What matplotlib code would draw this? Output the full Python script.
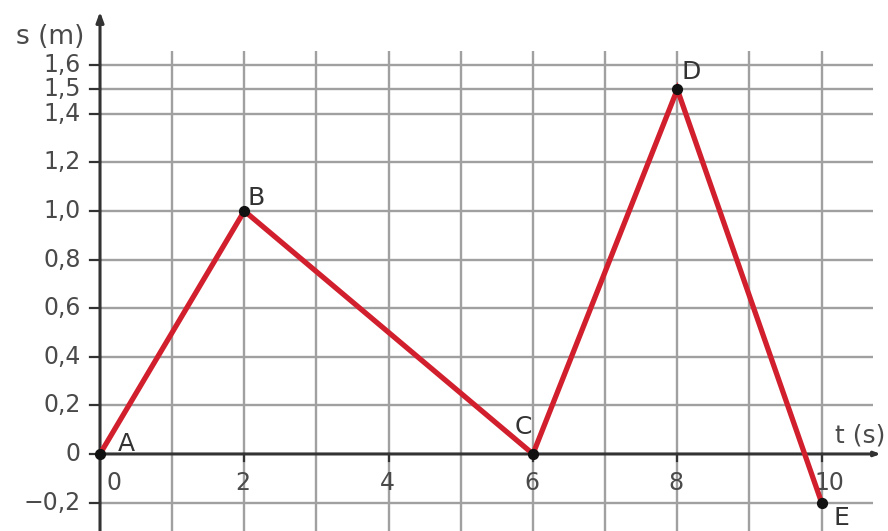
import matplotlib
matplotlib.use("Agg")
import matplotlib.pyplot as plt

plt.rcParams['font.family'] = ['DejaVu Sans']

# data
t_values = [0, 2, 6, 8, 10]
s_values = [0.0, 1.0, 0.0, 1.5, -0.2]
point_names = ["A", "B", "C", "D", "E"]
y_ticks = [1.6, 1.5, 1.4, 1.2, 1.0, 0.8, 0.6, 0.4, 0.2, 0.0, -0.2]
y_tick_labels = ["1,6", "1,5", "1,4", "1,2", "1,0", "0,8", "0,6", "0,4", "0,2", "0", "\u22120,2"]
x_ticks = [0, 2, 4, 6, 8, 10]
x_tick_labels = ["0", "2", "4", "6", "8", "10"]
x_grid = [1, 2, 3, 4, 5, 6, 7, 8, 9, 10]

fig = plt.figure(figsize=(8.88, 5.31), dpi=100)
ax = fig.add_axes([0, 0, 1, 1])
ax.set_xlim(-1.386, 10.92)
ax.set_ylim(-0.317, 1.868)
ax.axis('off')

grid_col = '#a0a0a0'
axis_col = '#333333'
text_col = '#4a4a4a'

# grid
for y in y_ticks:
    if y != 0:
        ax.plot([0, 10.71], [y, y], color=grid_col, lw=1.7, zorder=1, solid_capstyle='butt')
for x in x_grid:
    ax.plot([x, x], [-0.317, 1.66], color=grid_col, lw=1.7, zorder=1, solid_capstyle='butt')

# axes with arrows
ax.annotate('', xy=(0, 1.82), xytext=(0, -0.317),
            arrowprops=dict(arrowstyle='-|>,head_length=0.6,head_width=0.22', color=axis_col, lw=2.2,
                            shrinkA=0, shrinkB=0), zorder=3)
ax.annotate('', xy=(10.82, 0), xytext=(0, 0),
            arrowprops=dict(arrowstyle='-|>,head_length=0.35,head_width=0.13', color=axis_col, lw=2.2,
                            shrinkA=0, shrinkB=0), zorder=3)

# ticks
for y in y_ticks:
    ax.plot([-0.14, 0], [y, y], color=axis_col, lw=1.6, zorder=3)
for x in x_ticks[1:]:
    ax.plot([x, x], [0, -0.03], color=axis_col, lw=1.6, zorder=3)

# tick labels
fs = 17
for y, lab in zip(y_ticks, y_tick_labels):
    ax.text(-0.27, y, lab, ha='right', va='center', fontsize=fs, color=text_col)
x_shift = {0: 0.19, 10: 0.11}
for x, lab in zip(x_ticks, x_tick_labels):
    ax.text(x + x_shift.get(x, -0.02), -0.12, lab, ha='center', va='center', fontsize=fs, color=text_col)

# axis labels
ax.text(-0.69, 1.716, 's (m)', ha='center', va='center', fontsize=19, color=text_col)
ax.text(10.53, 0.075, 't (s)', ha='center', va='center', fontsize=18, color=text_col)

# data line
ax.plot(t_values, s_values, color='#d21f2d', lw=3.8, zorder=4, solid_joinstyle='miter')
ax.scatter(t_values, s_values, s=50, color='#111111', zorder=5)

offsets = {"A": (0.37, 0.04), "B": (0.16, 0.055), "C": (-0.14, 0.11),
           "D": (0.19, 0.07), "E": (0.28, -0.062)}
for t, s, n in zip(t_values, s_values, point_names):
    dx, dy = offsets[n]
    ax.text(t + dx, s + dy, n, ha='center', va='center', fontsize=18, color='#333333', zorder=6)

fig.savefig('out.png', dpi=100)
